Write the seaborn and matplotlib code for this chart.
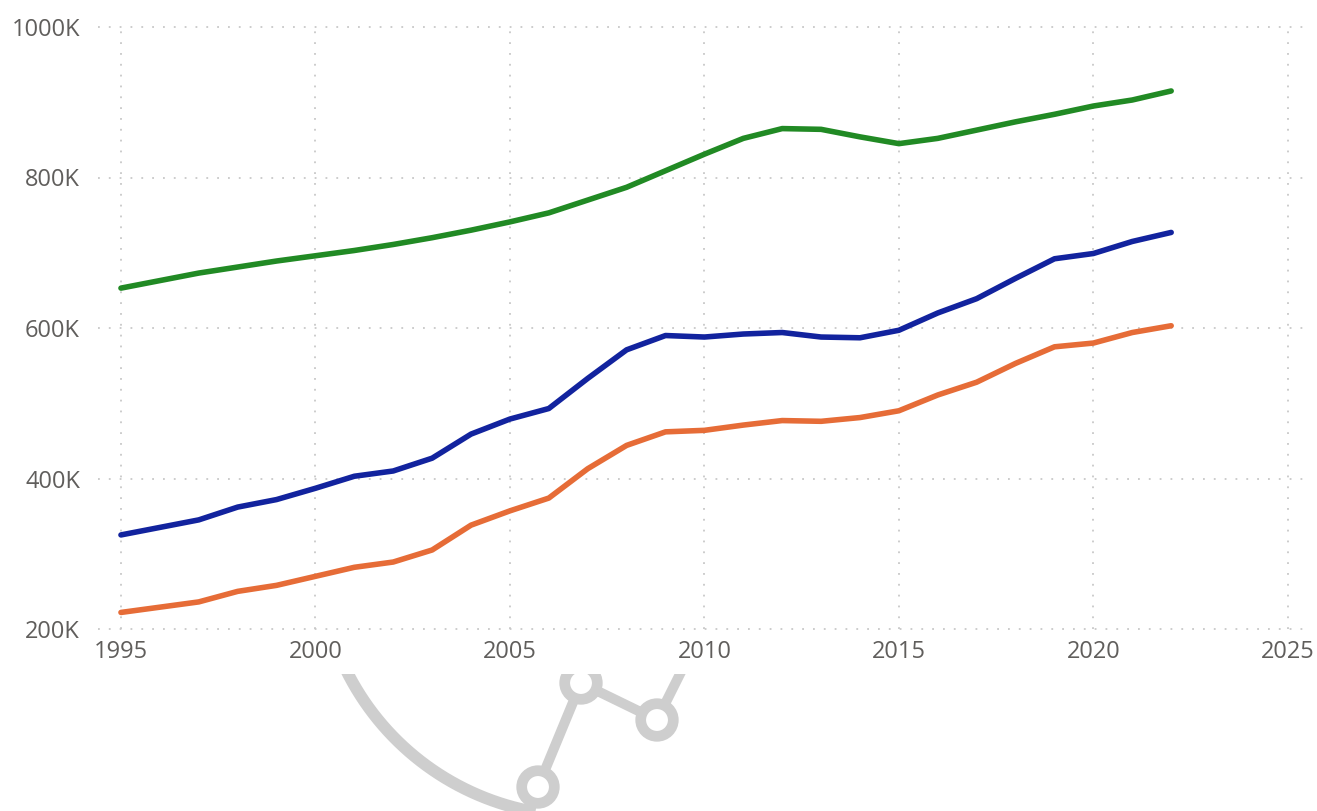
import numpy as np
import pandas as pd
import matplotlib
matplotlib.use("Agg")
import matplotlib.pyplot as plt
import seaborn as sns
from matplotlib.patches import Circle
from matplotlib.ticker import FuncFormatter

# -----------------------------
# Data (values in thousands)
# -----------------------------
years = list(range(1995, 2023))

green_vals = [653, 663, 673, 681, 689, 696, 703, 711, 720, 730,
              741, 753, 770, 787, 809, 831, 852, 865, 864, 854,
              845, 852, 863, 874, 884, 895, 903, 915]
blue_vals = [325, 335, 345, 362, 372, 387, 403, 410, 427, 459,
             479, 493, 533, 571, 590, 588, 592, 594, 588, 587,
             597, 620, 639, 666, 692, 699, 715, 727]
orange_vals = [222, 229, 236, 250, 258, 270, 282, 289, 305, 338,
               357, 374, 413, 444, 462, 464, 471, 477, 476, 481,
               490, 511, 528, 553, 575, 580, 594, 603]

series_names = ["green", "blue", "orange"]
series_colors = {"green": "#218A24", "blue": "#12239E", "orange": "#E66C37"}

y_ticks = [200, 400, 600, 800, 1000]
x_ticks = [1995, 2000, 2005, 2010, 2015, 2020, 2025]

# -----------------------------
# Theme
# -----------------------------
sns.set_theme(style="white")
plt.rcParams["font.family"] = ["Open Sans", "DejaVu Sans"]

df = pd.DataFrame({
    "Year": years * 3,
    "Value": [v * 1000 for v in green_vals + blue_vals + orange_vals],
    "Series": ["green"] * len(years) + ["blue"] * len(years) + ["orange"] * len(years),
})

W, H = 1317, 811
fig = plt.figure(figsize=(W / 100, H / 100), dpi=100)
fig.patch.set_facecolor("white")

# main plot area (pixel box converted to figure fractions)
left, right, top, bottom = 98, 1305, 27, 629
ax = fig.add_axes([left / W, 1 - bottom / H, (right - left) / W, (bottom - top) / H])

sns.lineplot(data=df, x="Year", y="Value", hue="Series", hue_order=series_names,
             palette=series_colors, linewidth=4.0, legend=False, ax=ax,
             solid_capstyle="round", solid_joinstyle="round", zorder=3)

ax.set_xlim(1994.41, 2025.44)
ax.set_ylim(200000, 1000000)
ax.set_xticks(x_ticks)
ax.set_yticks([t * 1000 for t in y_ticks])
ax.yaxis.set_major_formatter(FuncFormatter(lambda v, p: f"{int(round(v / 1000))}K"))
ax.set_xlabel("")
ax.set_ylabel("")

for s in ax.spines.values():
    s.set_visible(False)

ax.grid(True, color="#C8C8C8", linewidth=1.3, linestyle=(0, (1, 5)))
for gl in ax.get_ygridlines() + ax.get_xgridlines():
    gl.set_clip_on(False)

ax.tick_params(axis="both", length=0, labelsize=17, labelcolor="#605E5C")
ax.tick_params(axis="y", pad=13)
ax.tick_params(axis="x", pad=8)

# -----------------------------
# Faint background logo below the axis (decoration)
# -----------------------------
clip_top = 674
lax = fig.add_axes([0, 0, 1, (H - clip_top) / H])
lax.set_xlim(0, W)
lax.set_ylim(H, clip_top)
lax.axis("off")
logo_gray = "#CECECE"

theta = np.radians(np.linspace(100, 165, 200))
cx, cy, r = 581, 554, 262
lax.plot(cx + r * np.cos(theta), cy + r * np.sin(theta), color=logo_gray,
         linewidth=8.6, solid_capstyle="butt")

node_x = [538, 581, 657]
node_y = [787, 683, 720]
lax.plot(node_x + [700], node_y + [634], color=logo_gray, linewidth=7.2)
for nx, ny in zip(node_x, node_y):
    lax.add_patch(Circle((nx, ny), 16.3, facecolor="white", edgecolor=logo_gray,
                         linewidth=7.7, zorder=3))

fig.savefig("out.png", dpi=100, facecolor="white")
